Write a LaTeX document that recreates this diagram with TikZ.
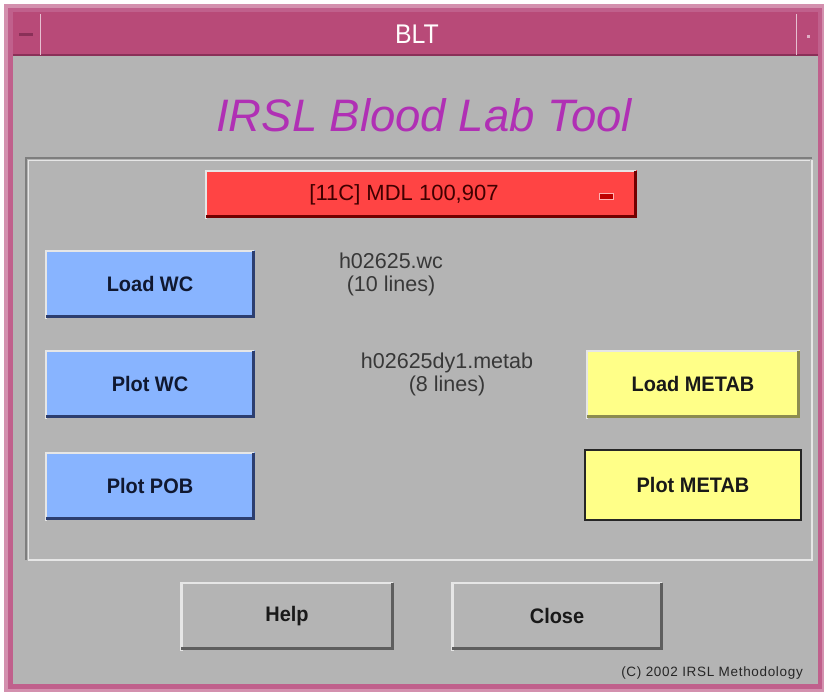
\documentclass[tikz,border=0pt]{standalone}
\usepackage{fontspec}
\setmainfont{Liberation Sans}
\newfontfamily\btnfont[FakeStretch=0.95]{Liberation Sans Bold}
\newfontfamily\barfont[FakeStretch=0.92]{Liberation Sans}
\newfontfamily\copyfont[LetterSpace=5]{Liberation Sans}
\definecolor{pinkframe}{HTML}{C0608C}
\definecolor{titlebar}{HTML}{B84A78}
\definecolor{titledark}{HTML}{8A3058}
\definecolor{bodygray}{HTML}{B4B4B4}
\definecolor{lightedge}{HTML}{E6E6E6}
\definecolor{darkedge}{HTML}{5E5E5E}
\definecolor{titlemag}{HTML}{B030B4}
\definecolor{redbtn}{HTML}{FF4444}
\definecolor{bluebtn}{HTML}{88B4FF}
\definecolor{blueedge}{HTML}{2C3E70}
\definecolor{yellowbtn}{HTML}{FFFF88}
\definecolor{yellowedge}{HTML}{8C8C50}
\definecolor{btntext}{HTML}{101830}
\tikzset{
  btnbase/.style={draw=none, minimum width=210pt, minimum height=68pt, inner sep=0pt,
    font=\btnfont\fontsize{21}{24}\selectfont, text=btntext},
  bluebox/.style={btnbase, fill=bluebtn},
  yellowbox/.style={btnbase, fill=yellowbtn, text=black!90},
  graybox/.style={btnbase, fill=bodygray, text=black!90},
  infotext/.style={font=\fontsize{21.5}{23}\selectfont, text=black!78, align=center, inner sep=0pt}
}
\newcommand{\bevel}[2]{%
  \draw[lightedge, line width=2.5pt] ([xshift=1pt,yshift=-1pt]#1.south west) |- ([xshift=-1pt,yshift=-1pt]#1.north east);
  \draw[#2, line width=3pt] ([xshift=1pt,yshift=1.5pt]#1.south west) -| ([xshift=-1.5pt,yshift=-1pt]#1.north east);
}
\begin{document}
\begin{tikzpicture}[x=1pt,y=-1pt]
\useasboundingbox (0,0) rectangle (826,693);
\fill[white] (0,0) rectangle (826,693);
% outer frame
\fill[pinkframe!70!white] (4,4) rectangle (824,692);
\fill[pinkframe] (8,8) rectangle (822,689);
% body
\fill[bodygray] (13,56) rectangle (818,684);
% title bar
\fill[titlebar] (13,12) rectangle (818,56);
\draw[titledark, line width=1.5pt] (13,55) -- (818,55);
\draw[pinkframe!40!white, line width=1pt] (40,14) -- (40,55);
\draw[pinkframe!40!white, line width=1pt] (796,14) -- (796,55);
\node (minbtn) [fill=titledark, minimum width=14pt, minimum height=3pt, inner sep=0pt] at (26,35) {};
\node (maxbtn) [fill=pinkframe!50!white, minimum width=3pt, minimum height=3pt, inner sep=0pt] at (808,37) {};
\node (title) [text=white!95!pink, font=\barfont\fontsize{27}{30}\selectfont] at (417,34) {BLT};
% main heading
\node (heading) [text=titlemag, font=\fontsize{45.5}{50}\selectfont\itshape, anchor=base, inner sep=0pt] at (424,131) {IRSL Blood Lab Tool};
% inner panel
\draw[darkedge!80, line width=1.2pt] (26,560) |- (812,158);
\draw[lightedge, line width=1.2pt] (28,560) -- (812,560) -- (812,160);
\draw[lightedge, line width=1pt] (28,561) |- (810,160);
% dropdown
\node (menu) [fill=redbtn, minimum width=432pt, minimum height=48pt, inner sep=0pt] at (421,194) {};
\bevel{menu}{red!45!black}
\node (menutext) [font=\fontsize{22}{24}\selectfont, text=red!25!black, inner sep=0pt] at (404,195) {[11C] MDL 100,907};
\node (menuind) [fill=red!75!black, draw=red!30!white, line width=0.8pt, minimum width=14pt, minimum height=6pt, inner sep=0pt] at (606,196) {};
% blue buttons
\node (loadwc) [bluebox] at (150,284) {Load WC};
\bevel{loadwc}{blueedge}
\node (plotwc) [bluebox] at (150,384) {Plot WC};
\bevel{plotwc}{blueedge}
\node (plotpob) [bluebox] at (150,486) {Plot POB};
\bevel{plotpob}{blueedge}
% info texts
\node (wcinfo) [infotext] at (391,274) {h02625.wc\\(10 lines)};
\node (metabinfo) [infotext] at (447,374) {h02625dy1.metab\\(8 lines)};
% yellow buttons
\node (loadmetab) [yellowbox, minimum width=214pt] at (693,384) {Load METAB};
\bevel{loadmetab}{yellowedge}
\node (plotmetab) [yellowbox, minimum width=216pt, minimum height=70pt] at (693,485) {Plot METAB};
\draw[black!85, line width=2pt] (plotmetab.south west) rectangle (plotmetab.north east);
% bottom buttons
\node (help) [graybox, minimum width=213pt] at (287,616) {Help};
\bevel{help}{darkedge}
\node (close) [graybox, minimum width=211pt] at (557,616) {Close};
\bevel{close}{darkedge}
\node (copy) [anchor=east, font=\copyfont\fontsize{13.5}{15}\selectfont, text=black!85, inner sep=0pt] at (803,673) {(C) 2002 IRSL Methodology};
\end{tikzpicture}
\end{document}
